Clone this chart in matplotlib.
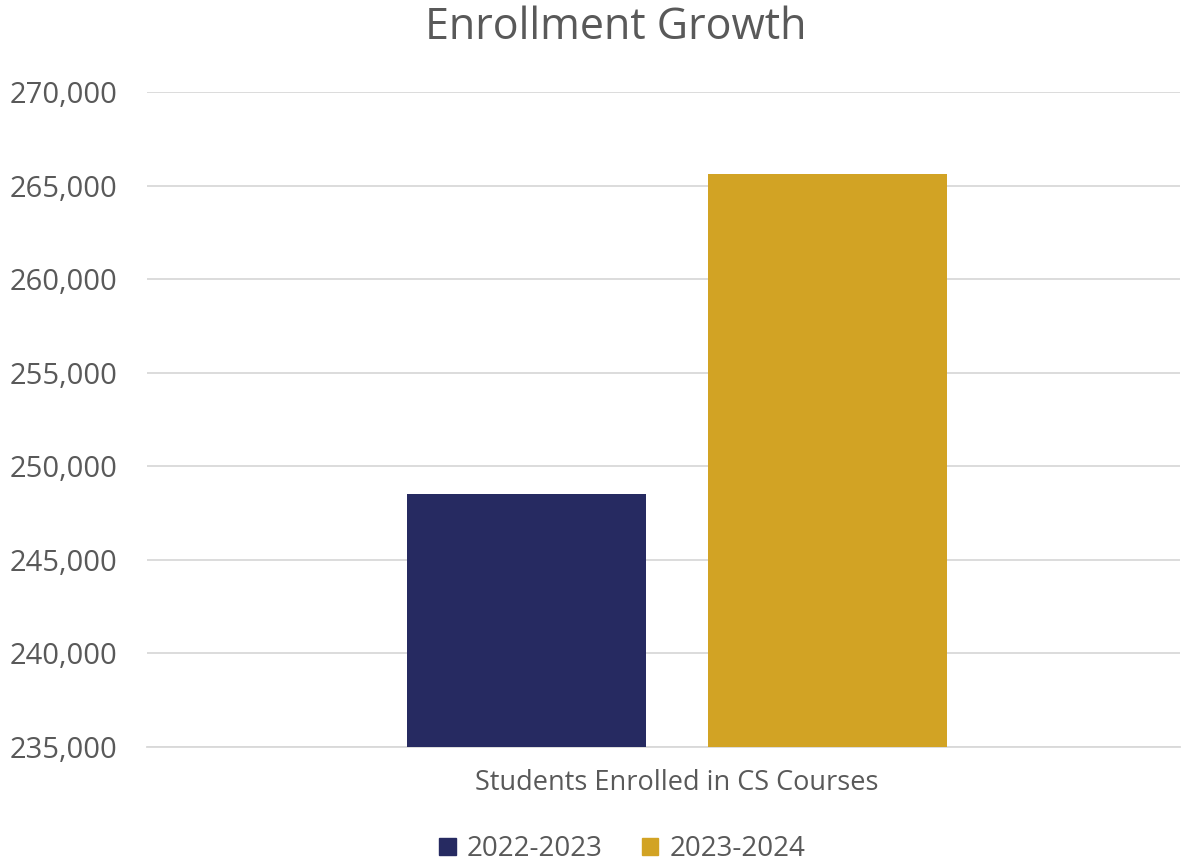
import matplotlib
matplotlib.use("Agg")
import matplotlib.pyplot as plt
from matplotlib.ticker import FuncFormatter
from matplotlib.patches import Patch

plt.rcParams['font.family'] = ['Open Sans', 'DejaVu Sans']

# data
category = "Students Enrolled in CS Courses"
series_names = ["2022-2023", "2023-2024"]
values = [248500, 265600]
colors = ["#262A61", "#D2A324"]
yticks = [235000, 240000, 245000, 250000, 255000, 260000, 265000, 270000]

text_color = "#595959"

fig = plt.figure(figsize=(11.92, 8.63), dpi=100)
ax = fig.add_axes([0.1233, 0.1344, 0.8667, 0.759])

bar_w = 0.2376
offsets = [-0.1496, 0.1496]
for name, v, c, off in zip(series_names, values, colors, offsets):
    ax.bar(0.5 + off, v - yticks[0], bottom=yticks[0], width=bar_w, color=c, label=name, zorder=3)

ax.set_xlim(-0.0268, 1)
ax.set_ylim(yticks[0], yticks[-1])
ax.set_yticks(yticks)
ax.yaxis.set_major_formatter(FuncFormatter(lambda v, p: "{:,.0f}".format(v)))
ax.set_xticks([0.5])
ax.set_xticklabels([category])
ax.tick_params(axis='y', length=0, pad=21, labelsize=21, labelcolor=text_color)
ax.tick_params(axis='x', length=0, pad=16, labelsize=19.5, labelcolor=text_color)

ax.grid(axis='y', color="#D9D9D9", linewidth=1.3, zorder=0)
for s in ["top", "right", "left"]:
    ax.spines[s].set_visible(False)
ax.spines["bottom"].set_color("#D9D9D9")
ax.spines["bottom"].set_linewidth(1.3)

fig.text(0.5165, 0.968, "Enrollment Growth", ha='center', va='center', fontsize=31, color=text_color)

handles = [Patch(color=c, label=n) for n, c in zip(series_names, colors)]
fig.legend(handles=handles, loc='center', bbox_to_anchor=(0.522, 0.016), ncol=2, frameon=False,
           fontsize=20, labelcolor=text_color, handlelength=0.6, handleheight=0.6,
           handletextpad=0.4, columnspacing=1.4)

fig.savefig("out.png", dpi=100)
